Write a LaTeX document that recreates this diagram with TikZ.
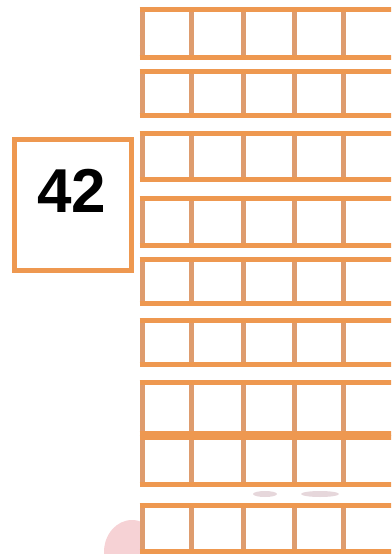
\documentclass[tikz,border=0pt]{standalone}
\usepackage{fontspec}
\setmainfont{Liberation Sans}
\usetikzlibrary{positioning}
\definecolor{tilehline}{HTML}{EE9850}
\definecolor{tilevline}{HTML}{DE9C6E}
\definecolor{tilemark}{HTML}{F6D2D5}
\definecolor{tilegrey}{HTML}{DCC6CC}

\begin{document}
\begin{tikzpicture}[x=1pt, y=-1pt,
    hline/.style={draw=tilehline, line width=5pt},
    vline/.style={draw=tilevline, line width=5pt},
    numbox/.style={draw=tilehline, line width=5pt, fill=white, minimum width=117pt, minimum height=131pt, inner sep=0pt}]
    \useasboundingbox (0,0) rectangle (391,554);
    \clip (0,0) rectangle (391,554);

    % faint marks of the background
    \fill[tilemark] (132,552) ellipse (28 and 32);
    \fill[tilegrey, opacity=0.7] (265,494) ellipse (12 and 3);
    \fill[tilegrey, opacity=0.7] (320,494) ellipse (19 and 3);

    % number box
    \node[numbox] (numbox) at (73,205) {};
    \node[font=\bfseries\fontsize{62}{62}\selectfont] (numlabel) at (72,191) {42};

    % rows of tiles
    \foreach \ra/\rb in {9.5/57.5, 71.5/115.5, 133.5/179.5, 198.5/245.5, 259.5/303.5, 320.5/364.5, 382.5/433, 437/484.5, 505.5/551.5} {
      \fill[white] (142,\ra) rectangle (400,\rb);
      \foreach \cx in {142,191,243,294,343}
        \draw[vline] (\cx,\ra) -- (\cx,\rb);
      \draw[hline] (139.5,\ra) -- (400,\ra);
      \draw[hline] (139.5,\rb) -- (400,\rb);
    }
\end{tikzpicture}
\end{document}
